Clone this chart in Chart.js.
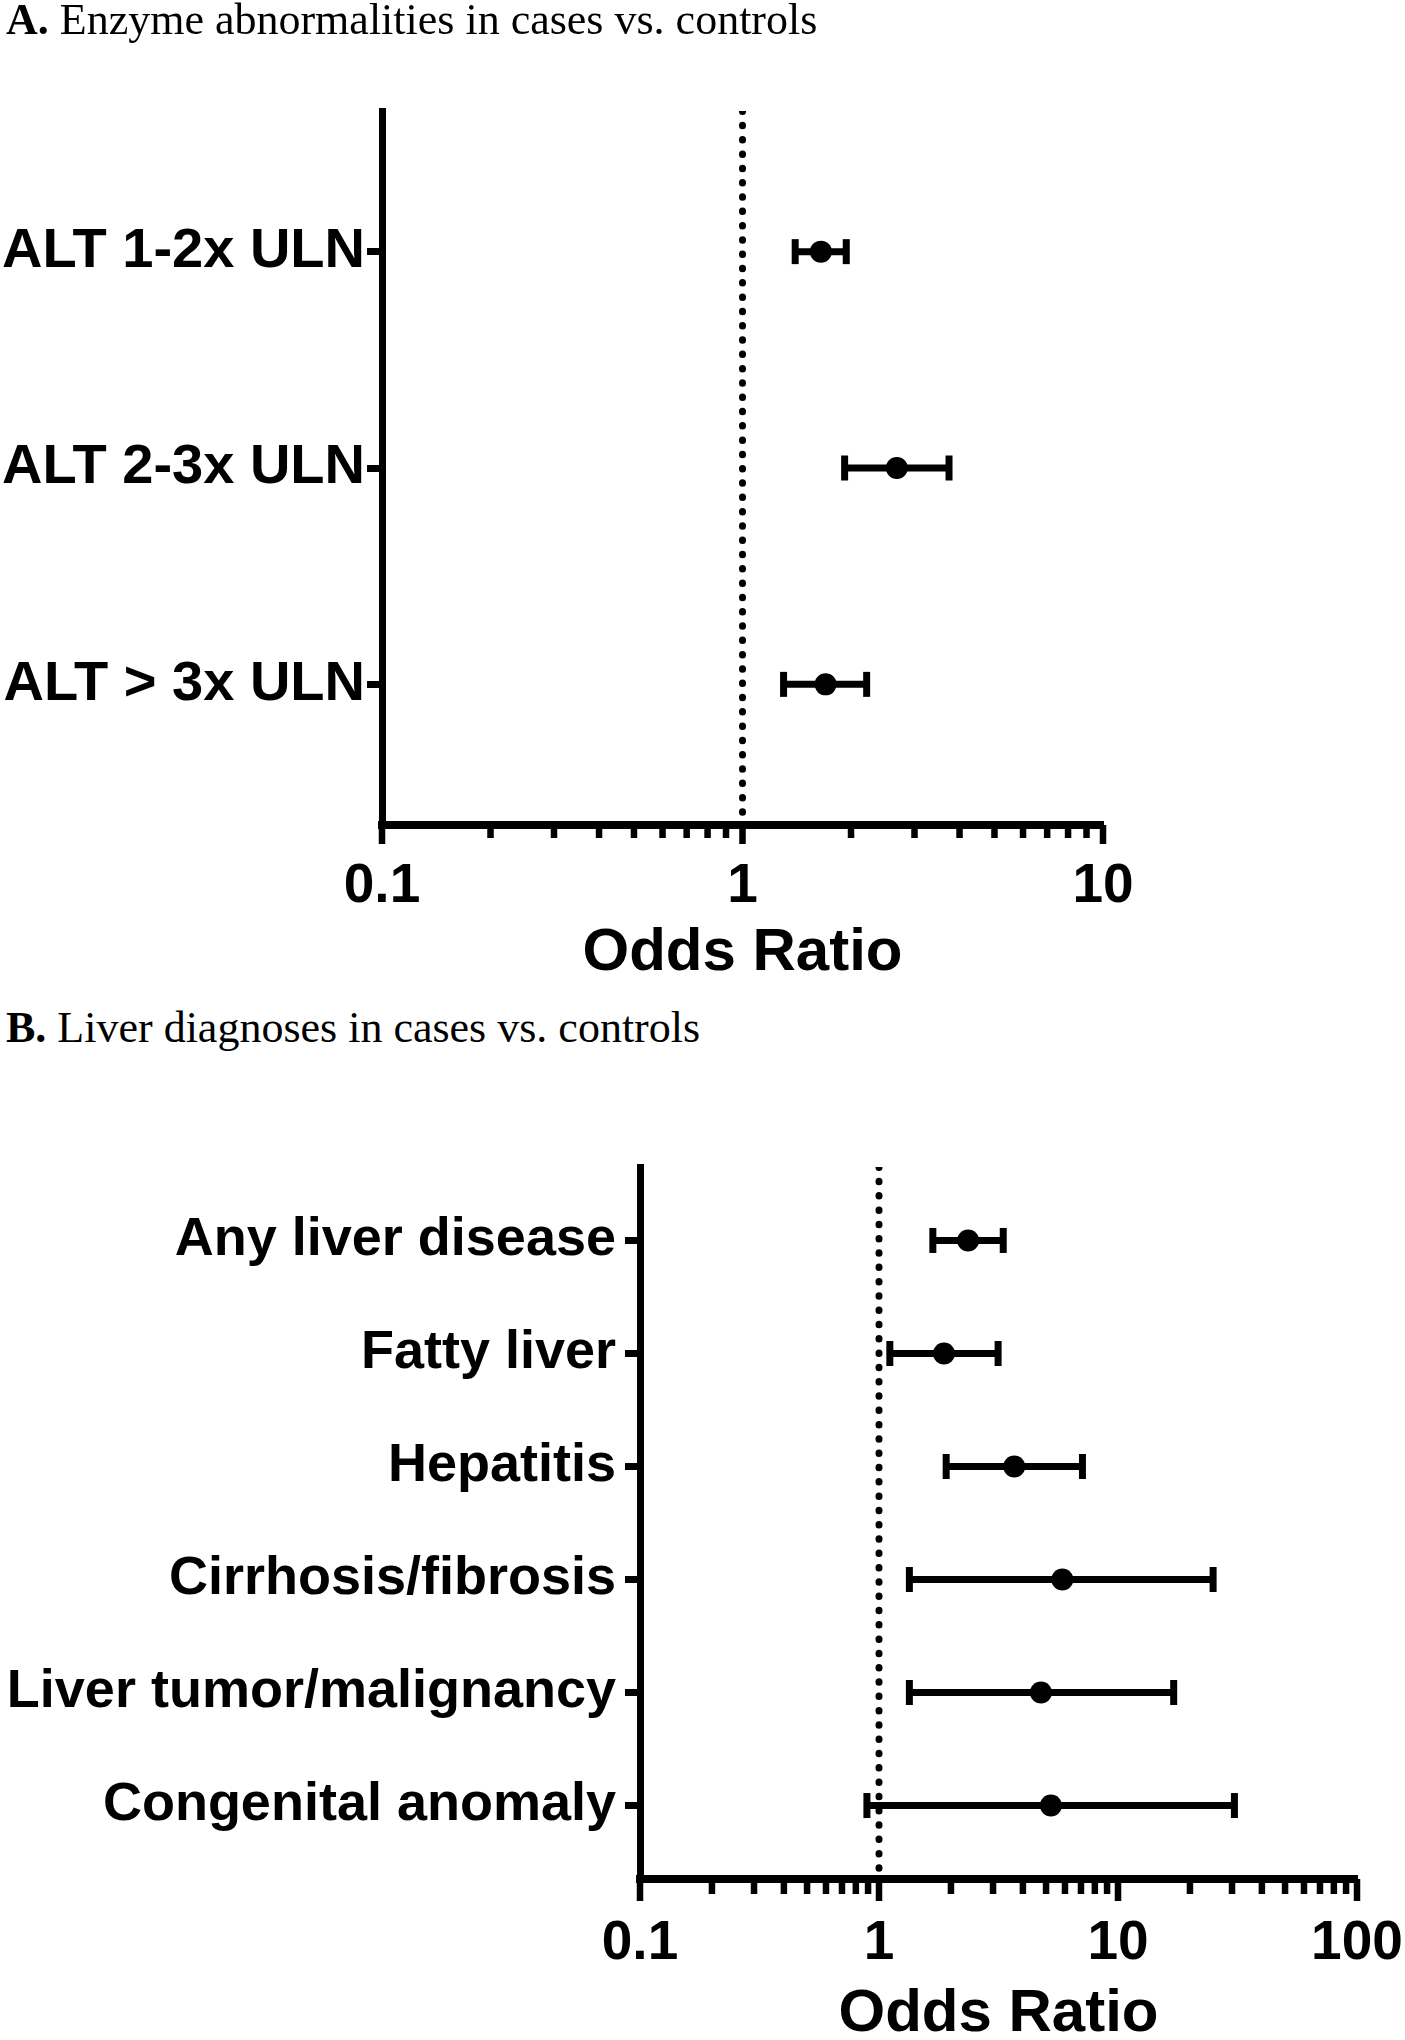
<!DOCTYPE html>
<html>
<head>
<meta charset="utf-8">
<script src="https://cdn.jsdelivr.net/npm/chart.js@4.4.1/dist/chart.umd.min.js"></script>
<style>
  html, body { margin: 0; padding: 0; background: #fff; }
  body { width: 1405px; height: 2040px; position: relative; overflow: hidden; }
  .panel-title {
    position: absolute; left: 6px; z-index: 2;
    font-family: "Liberation Serif", "Times New Roman", serif;
    font-size: 44px; line-height: 44px; color: #000; white-space: nowrap;
  }
  .box { position: absolute; left: 0; }
</style>
</head>
<body>

<div class="panel-title" style="top:-2px"><b>A.</b> Enzyme abnormalities in cases vs. controls</div>
<div class="box" style="top:0px;width:1405px;height:1000px"><canvas id="chartA"></canvas></div>

<div class="panel-title" style="top:1006px"><b>B.</b> Liver diagnoses in cases vs. controls</div>
<div class="box" style="top:1100px;width:1605px;height:980px"><canvas id="chartB"></canvas></div>

<script>
// pannello A
var labelsA = ['ALT 1-2x ULN', 'ALT 2-3x ULN', 'ALT > 3x ULN'];
var oddsA = [1.65, 2.68, 1.70];
var lowA = [1.40, 1.92, 1.30];
var highA = [1.94, 3.74, 2.21];
var ticksA = [0.1, 1, 10];
var tickLabelsA = ['0.1', '1', '10'];

// pannello B
var labelsB = ['Any liver disease', 'Fatty liver', 'Hepatitis', 'Cirrhosis/fibrosis', 'Liver tumor/malignancy', 'Congenital anomaly'];
var oddsB = [2.36, 1.87, 3.68, 5.85, 4.76, 5.24];
var lowB = [1.68, 1.11, 1.91, 1.34, 1.34, 0.89];
var highB = [3.31, 3.15, 7.10, 25.0, 17.1, 30.7];
var ticksB = [0.1, 1, 10, 100];
var tickLabelsB = ['0.1', '1', '10', '100'];

var FONT = '"Liberation Sans", Arial, Helvetica, sans-serif';
var EDGE = 0.65;

// tacche minori 2..9 per ogni decade
function minorTicks(majors)
{
  var out = [];
  for (var i = 0; i < majors.length - 1; i++) {
    for (var m = 2; m <= 9; m++) {
      out.push(majors[i] * m);
    }
  }
  return out;
}

// disegna le tacche dell'asse x (maggiori piu lunghe)
var axisTicksPlugin = {
  id: 'axisTicks',
  afterDraw: function(chart, args, opts) {
    var sc = chart.scales.x;
    var ctx = chart.ctx;
    var y0 = chart.chartArea.bottom;
    ctx.save();
    ctx.strokeStyle = '#000';
    ctx.lineWidth = 6.5;
    ctx.lineCap = 'butt';
    ctx.beginPath();
    opts.majors.forEach(function(v) {
      var x = sc.getPixelForValue(v);
      ctx.moveTo(x, y0);
      ctx.lineTo(x, y0 + opts.majorLen);
    });
    opts.minors.forEach(function(v) {
      var x = sc.getPixelForValue(v);
      ctx.moveTo(x, y0);
      ctx.lineTo(x, y0 + opts.minorLen);
    });
    ctx.stroke();
    ctx.restore();
  }
};

function printForest(canvasId, s)
{
  var n = s.labels.length;
  var datasets = [];

  // punti (odds ratio)
  var points = [];
  for (var i = 0; i < n; i++) {
    points.push({ x: s.odds[i], y: i });
  }
  datasets.push({
    data: points,
    order: 0,
    pointRadius: 11,
    pointBackgroundColor: '#000',
    pointBorderWidth: 0,
    showLine: false
  });

  // barre di errore con le stanghette verticali
  for (var j = 0; j < n; j++) {
    datasets.push({
      data: [{ x: s.low[j], y: j }, { x: s.high[j], y: j }],
      order: 1,
      showLine: true,
      borderColor: '#000',
      borderWidth: 7,
      pointStyle: 'line',
      pointRotation: 90,
      pointRadius: 12.5,
      pointBorderWidth: 7,
      pointBorderColor: '#000',
      clip: false
    });
  }

  // linea tratteggiata a OR = 1
  datasets.push({
    data: [{ x: 1, y: -EDGE }, { x: 1, y: n - 1 + EDGE }],
    order: 2,
    showLine: true,
    borderColor: '#000',
    borderWidth: 7,
    borderDash: [0.5, 13.8],
    borderCapStyle: 'round',
    pointRadius: 0
  });

  return new Chart(document.getElementById(canvasId), {
    type: 'scatter',
    data: { datasets: datasets },
    plugins: [axisTicksPlugin],
    options: {
      responsive: true,
      maintainAspectRatio: false,
      animation: false,
      events: [],
      layout: { padding: { top: s.padTop, right: s.padRight, left: 0, bottom: 0 } },
      plugins: {
        legend: { display: false },
        tooltip: { enabled: false },
        axisTicks: {
          majors: s.ticks,
          minors: minorTicks(s.ticks),
          majorLen: s.majorLen,
          minorLen: s.minorLen
        }
      },
      scales: {
        x: {
          type: 'logarithmic',
          min: s.ticks[0],
          max: s.ticks[s.ticks.length - 1],
          afterBuildTicks: function(scale) {
            scale.ticks = s.ticks.map(function(v) { return { value: v, major: true }; });
          },
          afterFit: function(scale) { scale.height = s.xHeight; },
          grid: { display: false },
          border: { display: true, color: '#000', width: 8 },
          ticks: {
            color: '#000',
            autoSkip: false,
            maxRotation: 0,
            padding: s.xTickPad,
            font: { family: FONT, size: 55, weight: 'bold' },
            callback: function(value, index) { return s.tickLabels[index]; }
          },
          title: {
            display: true,
            text: 'Odds Ratio',
            color: '#000',
            font: { family: FONT, size: 60, weight: 'bold' },
            padding: { top: 0, bottom: s.titlePad }
          }
        },
        y: {
          type: 'linear',
          reverse: true,
          min: -EDGE,
          max: n - 1 + EDGE,
          afterBuildTicks: function(scale) {
            scale.ticks = s.labels.map(function(l, k) { return { value: k }; });
          },
          afterFit: function(scale) { scale.width = s.yWidth; },
          grid: {
            drawOnChartArea: false,
            drawTicks: true,
            tickLength: 15,
            tickWidth: 7,
            tickColor: '#000',
            color: '#000'
          },
          border: { display: true, color: '#000', width: 7 },
          ticks: {
            color: '#000',
            autoSkip: false,
            padding: s.yTickPad,
            font: { family: FONT, size: s.labelSize, weight: 'bold' },
            callback: function(value) { return s.labels[Math.round(value)]; }
          }
        }
      }
    }
  });
}

printForest('chartA', {
  labels: labelsA, odds: oddsA, low: lowA, high: highA,
  ticks: ticksA, tickLabels: tickLabelsA,
  padTop: 111, padRight: 302, yWidth: 382, xHeight: 175,
  xTickPad: 21, yTickPad: 2, titlePad: 11, labelSize: 56,
  majorLen: 19, minorLen: 13
});

printForest('chartB', {
  labels: labelsB, odds: oddsB, low: lowB, high: highB,
  ticks: ticksB, tickLabels: tickLabelsB,
  padTop: 67, padRight: 248, yWidth: 640, xHeight: 201,
  xTickPad: 24, yTickPad: 9, titlePad: 30, labelSize: 54,
  majorLen: 22, minorLen: 15
});
</script>
</body>
</html>
